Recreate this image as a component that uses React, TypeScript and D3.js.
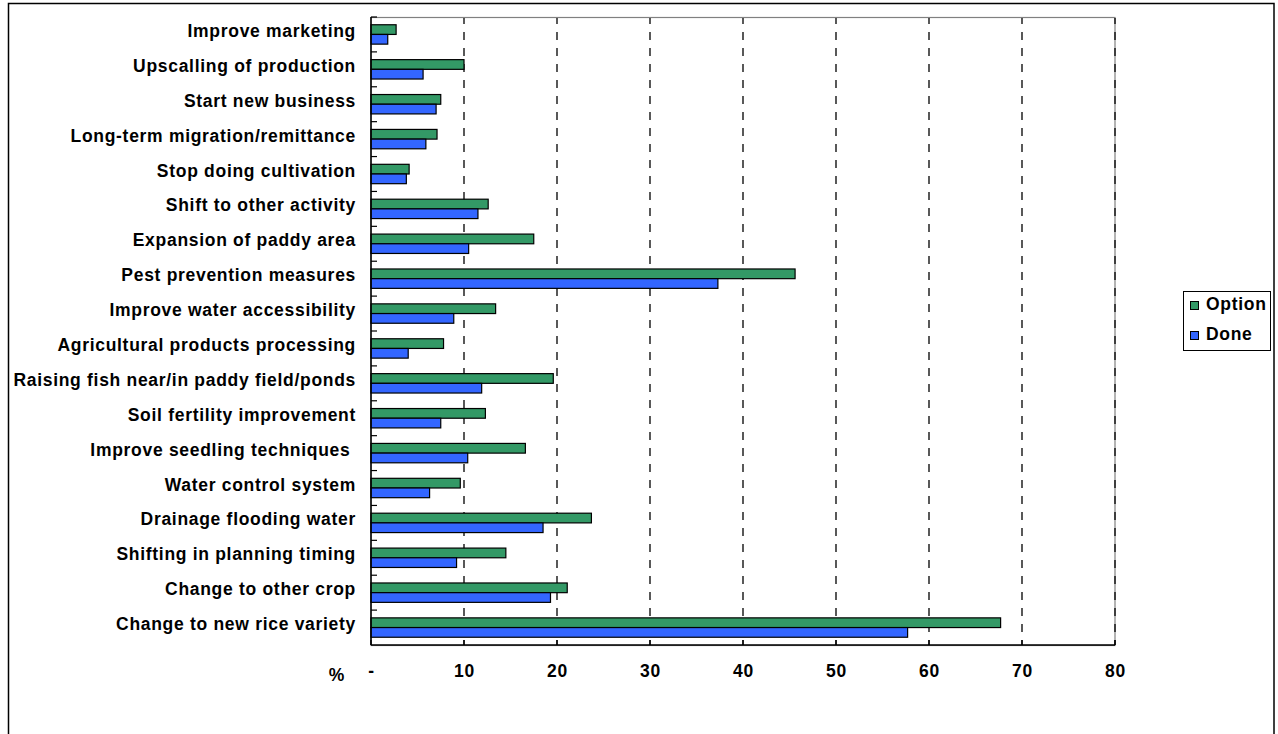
import React from "react";
import * as d3 from "d3";

const categories = [
  "Improve marketing",
  "Upscalling of production",
  "Start new business",
  "Long-term migration/remittance",
  "Stop doing cultivation",
  "Shift to other activity",
  "Expansion of paddy area",
  "Pest prevention measures",
  "Improve water accessibility",
  "Agricultural products processing",
  "Raising fish near/in paddy field/ponds",
  "Soil fertility improvement",
  "Improve seedling techniques ",
  "Water control system",
  "Drainage flooding water",
  "Shifting in planning timing",
  "Change to other crop",
  "Change to new rice variety",
];

const optionValues = [2.7, 10.0, 7.5, 7.1, 4.1, 12.6, 17.5, 45.6, 13.4, 7.8, 19.6, 12.3, 16.6, 9.6, 23.7, 14.5, 21.1, 67.7];
const doneValues = [1.8, 5.6, 7.0, 5.9, 3.8, 11.5, 10.5, 37.3, 8.9, 4.0, 11.9, 7.5, 10.4, 6.3, 18.5, 9.2, 19.3, 57.7];

const seriesNames = ["Option", "Done"];
const seriesColors = ["#339966", "#3366FF"];
const xTicks = [0, 10, 20, 30, 40, 50, 60, 70, 80];
const xTickLabels = ["-", "10", "20", "30", "40", "50", "60", "70", "80"];

const W = 1278;
const H = 734;
const L = 371;
const R = 1115;
const T = 17;
const B = 645;
const font = "'Liberation Sans', Arial, sans-serif";

export default function App() {
  const x = d3.scaleLinear().domain([0, 80]).range([L, R]);
  const y = d3.scaleBand<string>().domain(categories).range([T, B]).padding(0);
  const ys = d3.scaleBand<string>().domain(seriesNames).range([0, y.bandwidth()]).paddingInner(0).paddingOuter(0.8);
  const series = [optionValues, doneValues];

  const textStyle: React.CSSProperties = {
    fontFamily: font,
    fontWeight: "bold",
    fontSize: 17.5,
    letterSpacing: 0.7,
    whiteSpace: "pre",
  };

  return (
    <svg width={W} height={H} style={{ position: "absolute", left: 0, top: 0, background: "#fff" }}>
      <rect x={8.5} y={3.5} width={1265.5} height={760} fill="#fff" stroke="#000" strokeWidth={1.5} />
      {/* plot area border */}
      <rect x={L} y={T + 0.5} width={R - L} height={B - T} fill="none" stroke="#808080" strokeWidth={1.2} />
      {/* gridlines */}
      {xTicks.slice(1).map((t) => (
        <line key={"g" + t} x1={x(t)} x2={x(t)} y1={T + 1} y2={B} stroke="#000" strokeWidth={1.3} strokeDasharray="8,8" strokeDashoffset={2} />
      ))}
      {/* bars */}
      {categories.map((c, i) => (
        <g key={c}>
          {series.map((vals, s) => (
            <rect
              key={s}
              x={x(0)}
              y={(y(c) as number) + (ys(seriesNames[s]) as number)}
              width={x(vals[i]) - x(0)}
              height={ys.bandwidth()}
              fill={seriesColors[s]}
              stroke="#000"
              strokeWidth={1.2}
            />
          ))}
        </g>
      ))}
      {/* y axis */}
      <line x1={L} x2={L} y1={T} y2={B} stroke="#000" strokeWidth={1.5} />
      {categories.map((c) => (
        <line key={"yt" + c} x1={L} x2={L + 6} y1={y(c) as number} y2={y(c) as number} stroke="#000" strokeWidth={1.2} />
      ))}
      {categories.map((c) => (
        <text
          key={"yl" + c}
          x={356}
          y={(y(c) as number) + y.bandwidth() / 2 + 2.5}
          textAnchor="end"
          style={textStyle}
          fill="#000"
        >
          {c}
        </text>
      ))}
      {/* x axis */}
      <line x1={L} x2={R} y1={B} y2={B} stroke="#000" strokeWidth={1.5} />
      {xTicks.map((t) => (
        <line key={"xt" + t} x1={x(t)} x2={x(t)} y1={B} y2={B - 5} stroke="#000" strokeWidth={1.3} />
      ))}
      {xTicks.map((t, i) => (
        <text key={"xl" + t} x={x(t) + 0.5} y={677} textAnchor="middle" style={textStyle} fill="#000">
          {xTickLabels[i]}
        </text>
      ))}
      <text x={337} y={681} textAnchor="middle" style={textStyle} fill="#000">%</text>
      {/* legend */}
      <rect x={1183.5} y={291.5} width={87} height={59} fill="#fff" stroke="#000" strokeWidth={1} />
      {seriesNames.map((s, i) => (
        <g key={"lg" + s}>
          <rect x={1190.5} y={301.5 + i * 30} width={8} height={8} fill={seriesColors[i]} stroke="#000" strokeWidth={1} />
          <text x={1206} y={310 + i * 30} style={textStyle} fill="#000">{s}</text>
        </g>
      ))}
    </svg>
  );
}
